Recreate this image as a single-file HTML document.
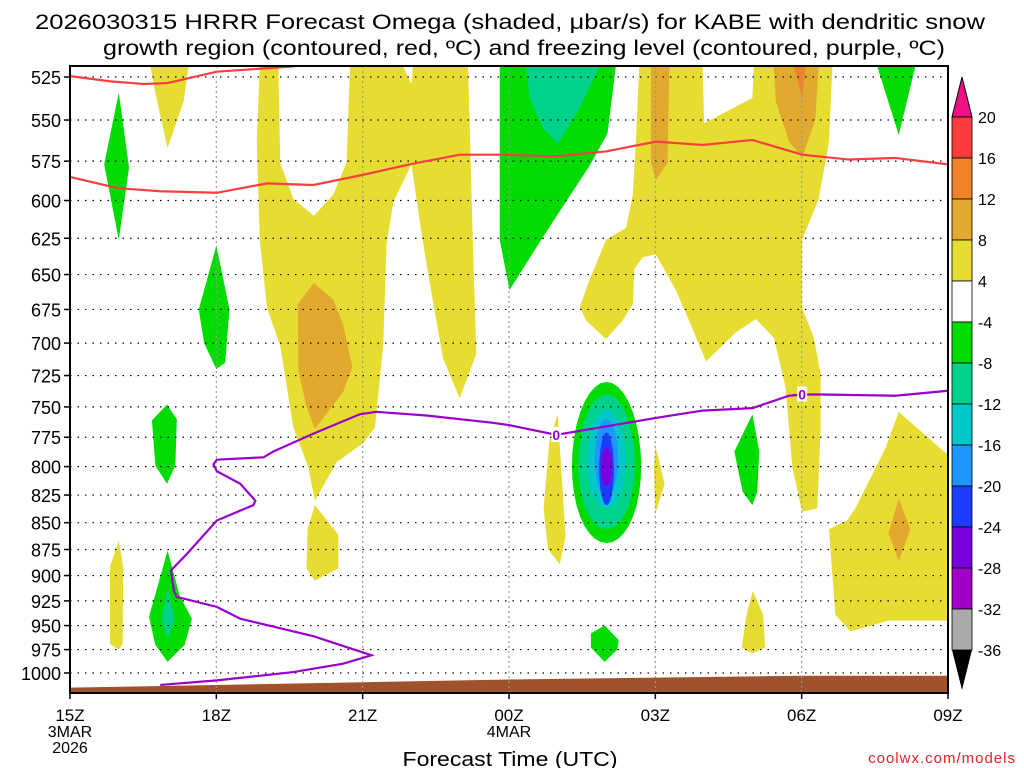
<!DOCTYPE html>
<html><head><meta charset="utf-8"><style>
body{margin:0;background:#fff;width:1024px;height:768px;overflow:hidden}
svg{display:block}
text{font-family:"Liberation Sans",sans-serif}
</style></head><body>
<svg id="chart" width="1024" height="768">
<text x="510" y="29" font-size="21" text-anchor="middle" textLength="950" lengthAdjust="spacingAndGlyphs">2026030315 HRRR Forecast Omega (shaded, μbar/s) for KABE with dendritic snow</text>
<text x="524" y="55" font-size="21" text-anchor="middle" textLength="842" lengthAdjust="spacingAndGlyphs">growth region (contoured, red, ºC) and freezing level (contoured, purple, ºC)</text>
<text x="510" y="766" font-size="20" text-anchor="middle" textLength="215" lengthAdjust="spacingAndGlyphs">Forecast Time (UTC)</text>
<text x="1016" y="763" font-size="15" fill="#e8202a" text-anchor="end" letter-spacing="1">coolwx.com/models</text>
</svg>
<script>
const hourTicks=[0,3,6,9,12,15,18];
const hourLabels=["15Z","18Z","21Z","00Z","03Z","06Z","09Z"];
const pressureTicks=[525,550,575,600,625,650,675,700,725,750,775,800,825,850,875,900,925,950,975,1000];
const cbLevels=[20,16,12,8,4,-4,-8,-12,-16,-20,-24,-28,-32,-36];
const cbColors=["#fa3c3c","#f0822a","#e1aa2f","#e6dc32","#ffffff","#00dc00","#00d28c","#00c8c8","#1e96ff","#1e3cff","#7800dc","#a000c8","#aaaaaa"];
// shaded omega regions: [hour, hPa]
const yellowA=[[1.65,519],[2.43,519],[2.33,539],[2.0,567],[1.75,534]];
const yellowBig=[[3.89,519],[4.27,519],[4.31,576],[4.58,599],[5.0,610],[5.4,596],[5.67,576],[5.74,519],[6.83,519],[7.0,529],[7.03,519],[8.16,519],[8.26,629],[8.33,708],[7.99,743],[7.65,712],[7.38,657],[7.2,620],[7.0,577],[6.63,601],[6.49,629],[6.42,702],[6.25,767],[6.01,780],[5.47,796],[5.02,830],[4.89,801],[4.58,767],[4.31,702],[4.04,674],[3.89,626],[3.83,563]];
const yellowB=[[5.02,834],[5.5,861],[5.5,893],[5.02,905],[4.85,893],[4.87,856]];
const yellowC=[[1.0,867],[1.09,891],[1.08,969],[1.0,975],[0.82,969],[0.82,891]];
const yellowD=[[11.67,519],[12.97,519],[13.0,552],[13.99,537],[14.02,519],[15.63,519],[15.56,563],[15.35,599],[15.01,626],[15.01,674],[15.25,696],[15.39,724],[15.39,767],[15.32,837],[15.01,840],[14.81,801],[14.67,734],[14.43,696],[14.06,682],[13.65,692],[13.04,714],[12.69,683],[12.42,661],[12.01,636],[11.74,638],[11.57,646],[11.54,671],[11.33,683],[10.99,697],[10.58,683],[10.45,673],[10.65,654],[10.99,626],[11.4,618],[11.54,596],[11.6,563]];
const yellowE=[[10.0,756],[10.16,863],[10.04,889],[9.8,875],[9.71,837],[9.83,777]];
const yellowF=[[12.0,782],[12.19,815],[12.0,842],[11.97,800]];
const yellowG=[[14.0,915],[14.21,939],[14.25,973],[13.99,979],[13.77,973],[13.87,939]];
const yellowH=[[16.99,754],[18.0,790],[18.0,945],[16.78,945],[16.0,956],[15.69,939],[15.56,856],[15.93,848],[16.1,837],[16.72,784]];
const orangeA=[[5.0,656],[5.4,668],[5.6,686],[5.79,718],[5.6,738],[5.02,768],[4.85,750],[4.68,721],[4.67,671]];
const orangeB=[[11.91,519],[12.29,519],[12.25,576],[12.01,587],[11.91,576]];
const orangeC=[[14.43,519],[15.35,519],[15.28,550],[15.01,573],[14.74,563],[14.47,539]];
const orangeD=[[16.99,828],[17.23,856],[16.99,886],[16.78,860]];
const darkOrange=[[14.84,519],[15.08,519],[15.01,537]];
const greenA=[[1.0,534],[1.21,579],[1.0,626],[0.7,577]];
const greenB=[[3.0,630],[3.27,675],[3.18,715],[3.0,720],[2.75,700],[2.64,675]];
const greenC=[[1.99,748],[2.19,760],[2.16,799],[1.99,815],[1.75,799],[1.68,761]];
const greenD=[[2.0,876],[2.25,920],[2.5,943],[2.35,970],[2.0,988],[1.75,970],[1.62,941],[1.8,910]];
const greenE=[[8.81,519],[11.19,519],[11.02,558],[10.65,578],[10.04,607],[9.66,626],[9.01,661],[8.81,626]];
const greenF=[[13.99,756],[14.13,787],[14.09,822],[13.99,834],[13.79,822],[13.62,787]];
const greenG=[[10.96,950],[11.25,965],[11.22,975],[10.96,988],[10.68,973],[10.68,958]];
const greenH=[[16.55,519],[17.33,519],[16.99,559]];
const tealA=[[2.0,913],[2.15,943],[2.0,964],[1.88,943]];
const tealB=[[9.35,519],[10.85,519],[10.45,543],[10.0,564],[9.7,555],[9.42,537]];
// omega max rings: center hour, half-width hours, top hPa, bottom hPa
const ringHalf=[0.71,0.58,0.39,0.24,0.15,0.12];
const ringTop=[730,740,752,760,771,784];
const ringBot=[869,856,837,826,834,817];
const ringColor=["#00dc00","#00d28c","#00c8c8","#1e96ff","#1e3cff","#7800dc"];
const ringCenter=11.0;
// contours
const redUpperH=[0.01,0.83,1.51,1.99,3.01,4.58];
const redUpperP=[524.5,527.5,529,528.5,522,519];
const redLowerH=[0.01,0.97,1.85,3.01,4.04,4.99,5.94,6.97,7.99,8.81,9.97,10.99,12.01,12.97,13.99,15.01,15.97,16.92,18.0];
const redLowerP=[585,592,594,595,589,590,584,577,571,571,572,569,563,565,562,571,574,573,577];
const purpleH=[1.85,3.01,4.58,5.6,6.18,5.94,4.99,3.49,3.01,2.19,2.13,2.07,2.4,3.01,3.76,3.8,3.49,3.01,2.94,3.01,3.97,4.17,4.99,5.94,6.28,7.31,8.67,9.01,9.97,12.01,12.97,13.99,14.74,15.01,15.42,16.92,18.0];
const purpleP=[1013,1008,999,990,981,977,961,943,931,921,915,895,879,848,834,830,815,804,798,794,792,787,772,756,754,757,763,765,773,759,753,751,741,740,740,741,737];
const labelH=[9.97,15.01];
const labelP=[773,740];
const terrainH=[0,3,6,9,12,15,18];
const terrainP=[1016,1013,1010,1007,1005,1003,1003];

const X0=70,X1=948,Y0=66,Y1=693;
const xs=h=>X0+(h/18)*(X1-X0);
const ys=p=>77+(Math.log(p)-Math.log(525))/Math.log(1000/525)*596;
const NS='http://www.w3.org/2000/svg';
const svg=document.getElementById('chart');
function mk(tag,attrs,parent){const e=document.createElementNS(NS,tag);for(const k in attrs)e.setAttribute(k,attrs[k]);(parent||svg).appendChild(e);return e;}
const clip=mk('clipPath',{id:'pc'});mk('rect',{x:X0,y:Y0,width:X1-X0,height:Y1-Y0},clip);
const g=mk('g',{'clip-path':'url(#pc)'});
function poly(pts,fill,name){const e=mk('polygon',{points:pts.map(q=>xs(q[0])+','+ys(q[1])).join(' '),fill:fill},g);

}
const Y='#e6dc32',O='#e1aa2f',GR='#00dc00',TL='#00d28c';
poly(yellowA,Y,'omega-region-4to8');poly(yellowBig,Y,'omega-region-4to8');poly(yellowB,Y,'omega-region-4to8');poly(yellowC,Y,'omega-region-4to8');
poly(yellowD,Y,'omega-region-4to8');poly(yellowE,Y,'omega-region-4to8');poly(yellowF,Y,'omega-region-4to8');poly(yellowG,Y,'omega-region-4to8');poly(yellowH,Y,'omega-region-4to8');
poly(orangeA,O,'omega-region-8to12');poly(orangeB,O,'omega-region-8to12');poly(orangeC,O,'omega-region-8to12');poly(orangeD,O,'omega-region-8to12');poly(darkOrange,'#f0822a','omega-region-12to16');
poly(greenA,GR,'omega-region-neg4');poly(greenB,GR,'omega-region-neg4');poly(greenC,GR,'omega-region-neg4');poly(greenD,GR,'omega-region-neg4');
poly(greenE,GR,'omega-region-neg4');poly(greenF,GR,'omega-region-neg4');poly(greenG,GR,'omega-region-neg4');poly(greenH,GR,'omega-region-neg4');
poly(tealA,TL,'omega-region-neg8');poly(tealB,TL,'omega-region-neg8');
ringHalf.forEach((a,i)=>{const pts=[];for(let k=0;k<36;k++){const t=k/36*2*Math.PI;const pm=(ringTop[i]+ringBot[i])/2,pr=(ringBot[i]-ringTop[i])/2;pts.push([ringCenter+a*Math.cos(t),pm+pr*Math.sin(t)]);}
poly(pts,ringColor[i],'omega-max-ring');});
// terrain
{const pts=terrainH.map((h,i)=>[h,terrainP[i]]);pts.push([18,1030],[0,1030]);poly(pts,'#a0522d','terrain');}
// gridlines
pressureTicks.forEach(p=>{const l=mk('line',{x1:X0,x2:X1,y1:ys(p),y2:ys(p),stroke:'#000','stroke-width':1.2,'stroke-dasharray':'1.5,6'},g);

});
hourTicks.slice(1,-1).forEach(h=>{const l=mk('line',{x1:xs(h),x2:xs(h),y1:Y0,y2:Y1,stroke:'#999','stroke-width':1.2,'stroke-dasharray':'2,3'},g);

});
function line(H,P,color,w,name){const e=mk('polyline',{points:H.map((h,i)=>xs(h)+','+ys(P[i])).join(' '),fill:'none',stroke:color,'stroke-width':w},g);

}
line(redUpperH,redUpperP,'#f54040',2.2,'dendritic-contour-upper');
line(redLowerH,redLowerP,'#f54040',2.2,'dendritic-contour-lower');
line(purpleH,purpleP,'#9a00cc',2.2,'freezing-level-contour');
labelH.forEach((h,i)=>{mk('rect',{x:xs(h)-5,y:ys(labelP[i])-8,width:10,height:15,fill:'#fff'},g);
const t=mk('text',{x:xs(h),y:ys(labelP[i])+5,'font-size':14,'font-weight':'bold',fill:'#9a00cc','text-anchor':'middle'},g);t.textContent='0';

});
// frame
const fr=mk('rect',{x:X0,y:Y0,width:X1-X0,height:Y1-Y0,fill:'none',stroke:'#000','stroke-width':2});


pressureTicks.forEach(p=>{mk('line',{x1:X0-6,x2:X0,y1:ys(p),y2:ys(p),stroke:'#000','stroke-width':1.5});
const t=mk('text',{x:X0-9,y:ys(p)+7,'font-size':18,'text-anchor':'end'});t.textContent=p;

});
hourTicks.forEach((h,i)=>{mk('line',{x1:xs(h),x2:xs(h),y1:Y1,y2:Y1+6,stroke:'#000','stroke-width':1.5});
const t=mk('text',{x:xs(h),y:721,'font-size':17,'text-anchor':'middle'});t.textContent=hourLabels[i];

});
[['3MAR',xs(0),737],['2026',xs(0),753],['4MAR',xs(9),737]].forEach(d=>{const t=mk('text',{x:d[1],y:d[2],'font-size':16,'text-anchor':'middle'});t.textContent=d[0];

});
// colorbar
const cbX=952,cbW=20,cbTop=117,cbStep=41;
const cby=i=>cbTop+i*cbStep;
mk('polygon',{points:`${cbX},${cbTop} ${cbX+cbW},${cbTop} ${cbX+cbW/2},${cbTop-40}`,fill:'#ee1188',stroke:'#000'});
cbColors.forEach((c,i)=>{const r=mk('rect',{x:cbX,y:cby(i),width:cbW,height:cbStep,fill:c,stroke:'#000','stroke-width':0.8});

});
mk('polygon',{points:`${cbX},${cby(13)} ${cbX+cbW},${cby(13)} ${cbX+cbW/2},${cby(13)+40}`,fill:'#000'});
cbLevels.forEach((v,i)=>{const t=mk('text',{x:978,y:cby(i)+6,'font-size':16});t.textContent=v;

});
</script>
</body></html>
